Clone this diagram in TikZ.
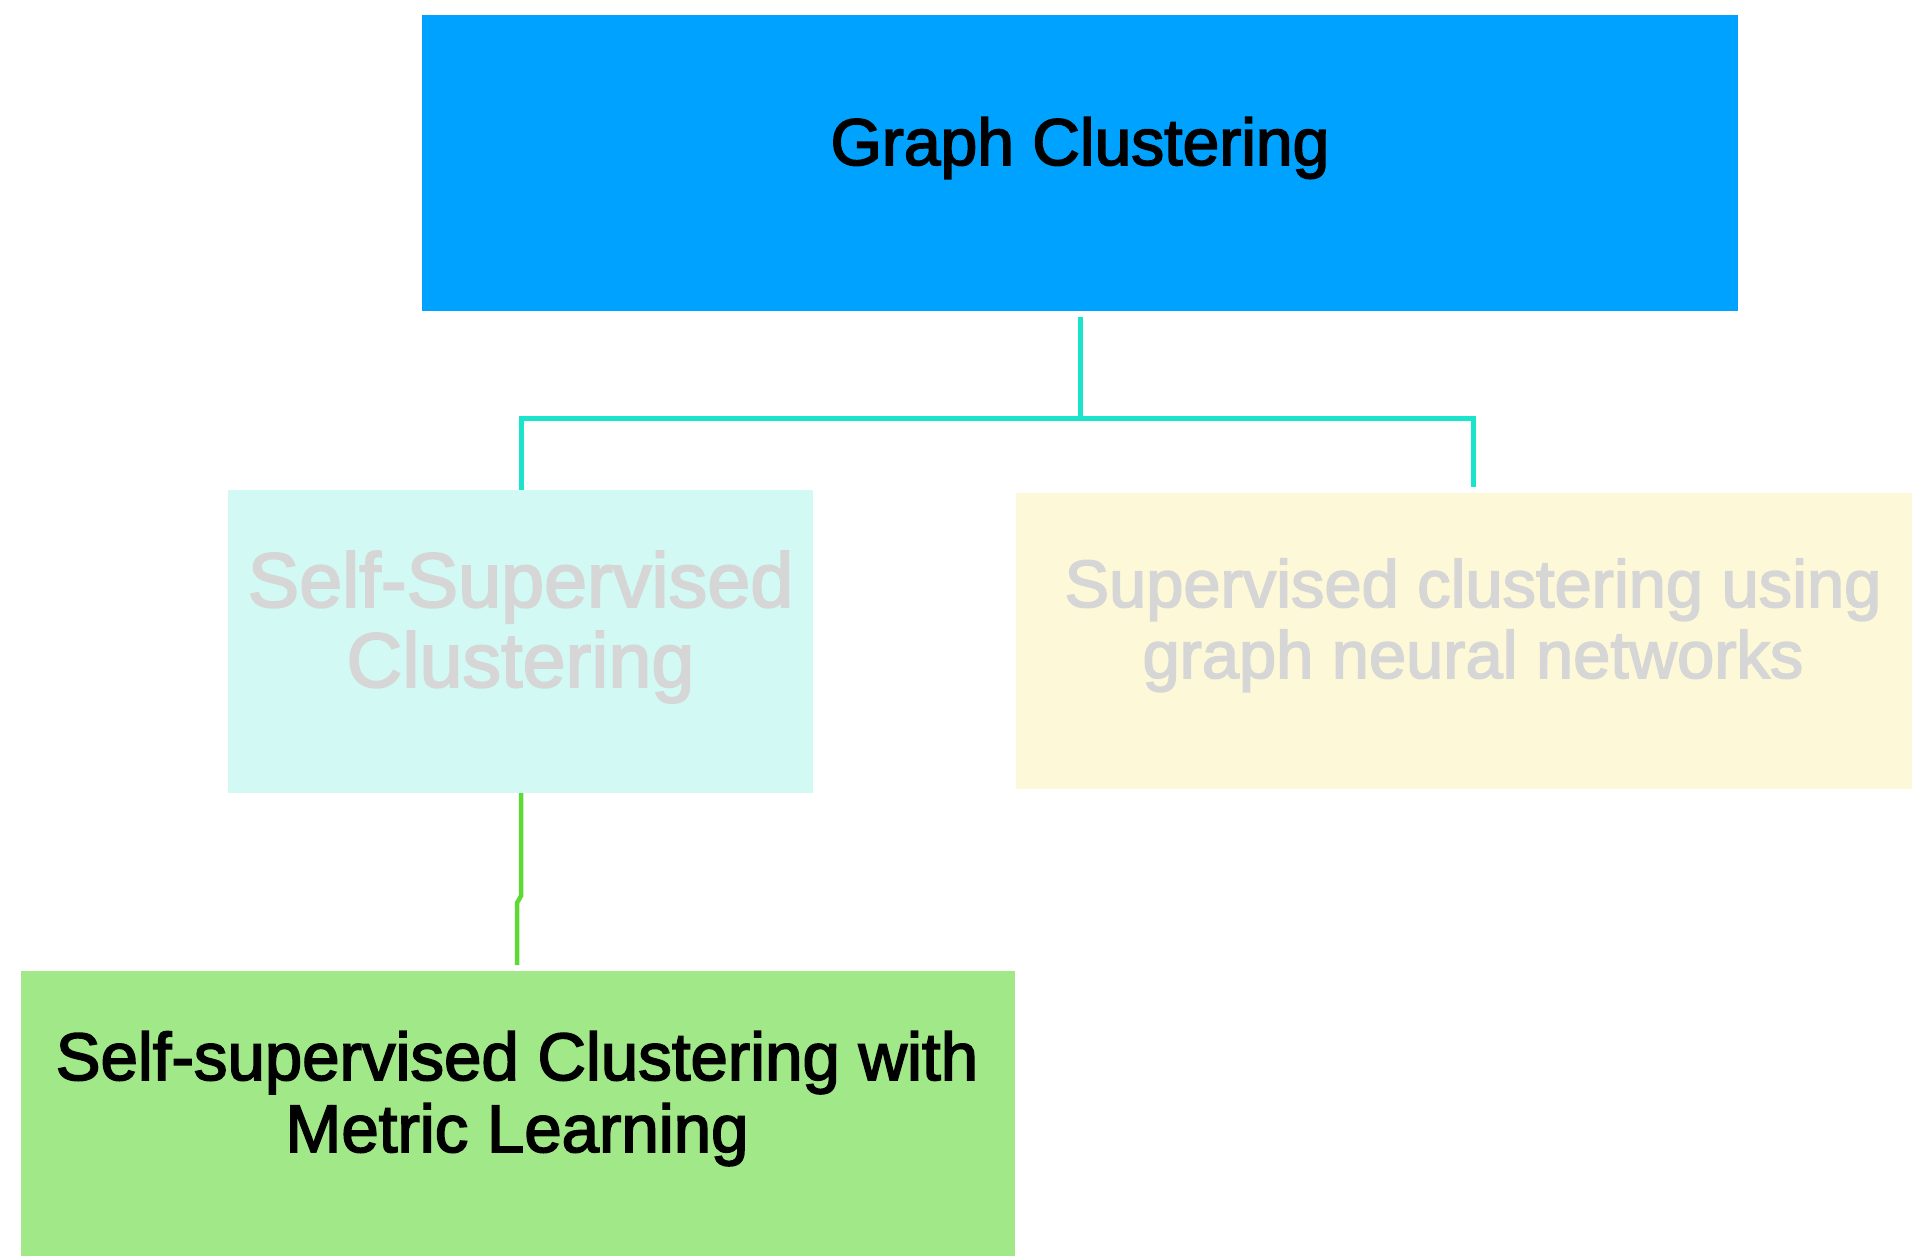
\documentclass[tikz,border=0pt]{standalone}
\usepackage{fontspec}
\setmainfont{Liberation Sans}
\newfontfamily\labelfont[FakeBold=2.5]{Liberation Sans}
\definecolor{rootblue}{HTML}{00A2FF}
\definecolor{branchteal}{HTML}{1BE4CC}
\definecolor{leafgreen}{HTML}{5FD935}
\definecolor{cyanfill}{HTML}{D2F9F4}
\definecolor{yellowfill}{HTML}{FDF9D8}
\definecolor{greenfill}{HTML}{A1E888}
\definecolor{fadedtext}{HTML}{D6D6D6}
\tikzset{
  panel/.style={draw=none, inner sep=0pt, outer sep=0pt},
  caption/.style={inner sep=0pt, align=center, font=\labelfont},
  tealline/.style={draw=branchteal, line width=5pt},
  greenline/.style={draw=leafgreen, line width=4.5pt},
}
\begin{document}
\begin{tikzpicture}[x=1pt, y=-1pt]
  \useasboundingbox (0,0) rectangle (1912,1256);
  \fill[white] (0,0) rectangle (1912,1256);

  % boxes
  \node[panel, fill=rootblue, minimum width=1316pt, minimum height=296pt] (gc) at (1080,163) {};
  \node[panel, fill=cyanfill, minimum width=585pt, minimum height=303pt] (ssc) at (520.5,641.5) {};
  \node[panel, fill=yellowfill, minimum width=896pt, minimum height=296pt] (sup) at (1464,641) {};
  \node[panel, fill=greenfill, minimum width=994pt, minimum height=285pt] (gsm) at (518,1113.5) {};

  % captions (anchored at the baseline of their last line)
  \node[caption, anchor=base, font=\labelfont\fontsize{66}{72}\selectfont] (gct) at (1080,165) {Graph Clustering};
  \node[caption, anchor=base, text=fadedtext, font=\labelfont\fontsize{77.3}{80}\selectfont] (ssct) at (520.5,687) {Self-Supervised\\Clustering};
  \node[caption, anchor=base, text=fadedtext, font=\labelfont\fontsize{66.8}{71}\selectfont] (supt) at (1473,678) {Supervised clustering using\\graph neural networks};
  \node[caption, anchor=base, font=\labelfont\fontsize{67.2}{72}\selectfont] (gsmt) at (517,1152) {Self-supervised Clustering with\\Metric Learning};

  % tree connectors
  \coordinate (fork) at (1080,418);
  \coordinate (leftdrop) at (521,418);
  \coordinate (rightdrop) at (1473,418);
  \draw[tealline] ([yshift=-6pt]gc.south) -- (fork);
  \draw[tealline, line join=miter] (ssc.north -| leftdrop) -- (leftdrop) -- (rightdrop) -- ([yshift=6pt]sup.north -| rightdrop);

  \coordinate (bend1) at (521,896);
  \coordinate (bend2) at (517,903);
  \draw[greenline] (ssc.south -| bend1) -- (bend1) -- (bend2) -- ([yshift=6pt]gsm.north -| bend2);
\end{tikzpicture}
\end{document}
